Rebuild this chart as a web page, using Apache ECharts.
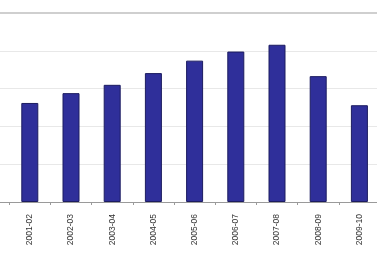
<!DOCTYPE html>
<html><head><meta charset="utf-8">
<script src="https://cdn.jsdelivr.net/npm/echarts@6/dist/echarts.min.js"></script>
<style>html,body{margin:0;padding:0;background:#fff;overflow:hidden;width:377px;height:255px;position:relative}#c{position:absolute;left:-32px;top:0;width:412px;height:255px}</style>
</head><body><div id="c"></div>
<script>
const categories = ['2000-01','2001-02','2002-03','2003-04','2004-05','2005-06','2006-07','2007-08','2008-09','2009-10'];
const values = [null, 2.62, 2.88, 3.10, 3.41, 3.74, 3.98, 4.16, 3.33, 2.56];
const yMin = 0, yMax = 5, yStep = 1;

const chart = echarts.init(document.getElementById('c'), null, {renderer:'canvas'});
chart.setOption({
  animation:false,
  grid:{left:0, right:0, top:13, bottom:53, containLabel:false},
  xAxis:{type:'category', data:categories, boundaryGap:true,
    axisLine:{lineStyle:{color:'#9a9a9a', width:1}},
    axisTick:{show:true, length:3, lineStyle:{color:'#9a9a9a'}},
    axisLabel:{rotate:90, fontSize:8.5, color:'#333', fontFamily:'Liberation Sans, Arial', margin:12, interval:0}},
  yAxis:{type:'value', min:yMin, max:yMax, interval:yStep,
    axisLine:{show:false}, axisTick:{show:false}, axisLabel:{show:false},
    splitLine:{lineStyle:{color:'#e8e8e8', width:1}}},
  series:[{type:'bar', data:values, barWidth:17,
    itemStyle:{color:'#2f2f9a', borderColor:'#1c1c60', borderWidth:1}},
    {type:'line', data:[], markLine:{silent:true, symbol:'none', label:{show:false},
      lineStyle:{color:'#cfcfcf', width:2, type:'solid'}, data:[{yAxis:yMax}]}}]
});
</script></body></html>
